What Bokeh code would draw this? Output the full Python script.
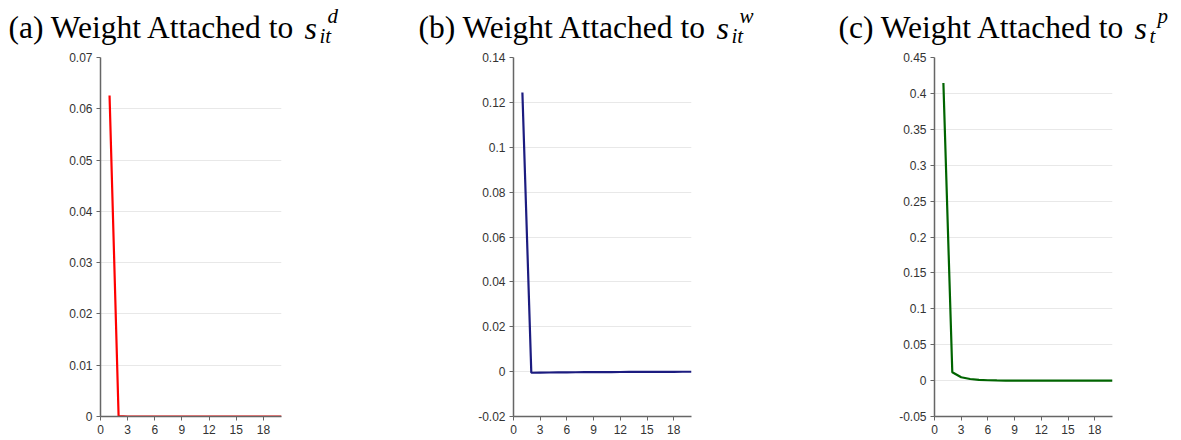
from bokeh.plotting import figure
from bokeh.layouts import column, row
from bokeh.models import Range1d, FixedTicker, CustomJSTickFormatter
from bokeh.core.properties import value
from bokeh.embed import file_html
from bokeh.resources import INLINE

# Horizon (periods after the shock)
periods = list(range(1, 21))

# Weight attached to s^d_it
weight_d = [0.0626, 0.0001, 0.0, 0.0, 0.0, 0.0, 0.0, 0.0, 0.0, 0.0,
            0.0, 0.0, 0.0, 0.0, 0.0, 0.0, 0.0, 0.0, 0.0, 0.0]

# Weight attached to s^w_it
weight_w = [0.1244, -0.0005, -0.00045, -0.0004, -0.00035, -0.0003, -0.00028, -0.00025,
            -0.00022, -0.0002, -0.00018, -0.00016, -0.00014, -0.00012, -0.0001,
            -0.00009, -0.00008, -0.00007, -0.00006, -0.00005]

# Weight attached to s^p_t
weight_p = [0.4144, 0.0117, 0.0047, 0.0022, 0.0010, 0.0005, 0.0002, 0.0001, 0.00005, 0.0,
            0.0, 0.0, 0.0, 0.0, 0.0, 0.0, 0.0, 0.0, 0.0, 0.0]

x_ticks = [0, 3, 6, 9, 12, 15, 18]
y_ticks_d = [0, 0.01, 0.02, 0.03, 0.04, 0.05, 0.06, 0.07]
y_ticks_w = [-0.02, 0, 0.02, 0.04, 0.06, 0.08, 0.1, 0.12, 0.14]
y_ticks_p = [-0.05, 0, 0.05, 0.1, 0.15, 0.2, 0.25, 0.3, 0.35, 0.4, 0.45]

TITLE_H = 48
FRAME_H = 359
TOP_PAD = 9
BOTTOM_PAD = 24

fmt_code = "return String(parseFloat(tick.toFixed(4)));"


def panel(values, color, y_lo, y_hi, y_ticks, left, frame_w, right):
    p = figure(width=left + frame_w + right, height=FRAME_H + TOP_PAD + BOTTOM_PAD,
               frame_width=frame_w, frame_height=FRAME_H,
               x_range=Range1d(0, 20), y_range=Range1d(y_lo, y_hi),
               output_backend="svg", toolbar_location=None,
               min_border_left=left, min_border_right=right,
               min_border_top=TOP_PAD, min_border_bottom=BOTTOM_PAD)
    p.outline_line_color = None
    p.background_fill_color = "white"
    p.border_fill_color = "white"
    p.xgrid.visible = False
    p.ygrid.grid_line_color = "#e8e8e8"
    p.ygrid.grid_line_width = 1
    p.xaxis.ticker = FixedTicker(ticks=x_ticks)
    p.yaxis.ticker = FixedTicker(ticks=y_ticks)
    p.yaxis.formatter = CustomJSTickFormatter(code=fmt_code)
    for ax in (p.xaxis[0], p.yaxis[0]):
        ax.axis_line_color = "#666666"
        ax.axis_line_width = 1.5
        ax.major_tick_line_color = "#666666"
        ax.major_tick_in = 0
        ax.major_tick_out = 4
        ax.minor_tick_line_color = None
        ax.major_label_text_font = "Liberation Sans"
        ax.major_label_text_font_size = "12px"
        ax.major_label_text_color = "#333333"
        ax.major_label_standoff = 4
    p.line(periods, values, line_color=color, line_width=2.2)
    return p


pa = panel(weight_d, "#ff0000", 0, 0.07, y_ticks_d, 100, 181, 119)
pb = panel(weight_w, "#1c1c80", -0.02, 0.14, y_ticks_w, 113, 178, 109)
pc = panel(weight_p, "#006400", -0.05, 0.45, y_ticks_p, 134, 178, 69)

# Title strip with the three panel captions (pixel coordinates, y grows downward)
t = figure(width=1181, height=TITLE_H, x_range=Range1d(0, 1181), y_range=Range1d(TITLE_H, 0),
           output_backend="svg", toolbar_location=None,
           min_border=0, x_axis_location=None, y_axis_location=None)
t.outline_line_color = None
t.grid.visible = False

captions = ["(a) Weight Attached to ", "(b) Weight Attached to ", "(c) Weight Attached to "]
cap_x = [8, 418, 838]
sup_txt = ["d", "w", "p"]
sub_txt = ["it", "it", "t"]
s_x = [304, 716, 1134]

serif = value("Liberation Serif")
t.text(x=cap_x, y=[27, 27, 27], text=captions, text_font=serif,
       text_font_size="31.5px", text_baseline="alphabetic", text_align="left", text_color="black")
t.text(x=s_x, y=[27, 27, 27], text=["s", "s", "s"], text_font=serif, text_font_style="italic",
       text_font_size="32px", text_baseline="alphabetic", text_align="left", text_color="black")
t.text(x=[v + 23 for v in s_x], y=[15, 15, 15], text=sup_txt, text_font=serif, text_font_style="italic",
       text_font_size="21px", text_baseline="alphabetic", text_align="left", text_color="black")
t.text(x=[v + 15 for v in s_x], y=[35, 35, 35], text=sub_txt, text_font=serif, text_font_style="italic",
       text_font_size="21px", text_baseline="alphabetic", text_align="left", text_color="black")

layout = column(t, row(pa, pb, pc, spacing=0), spacing=0)

open("out.html", "w").write(file_html(layout, INLINE))
